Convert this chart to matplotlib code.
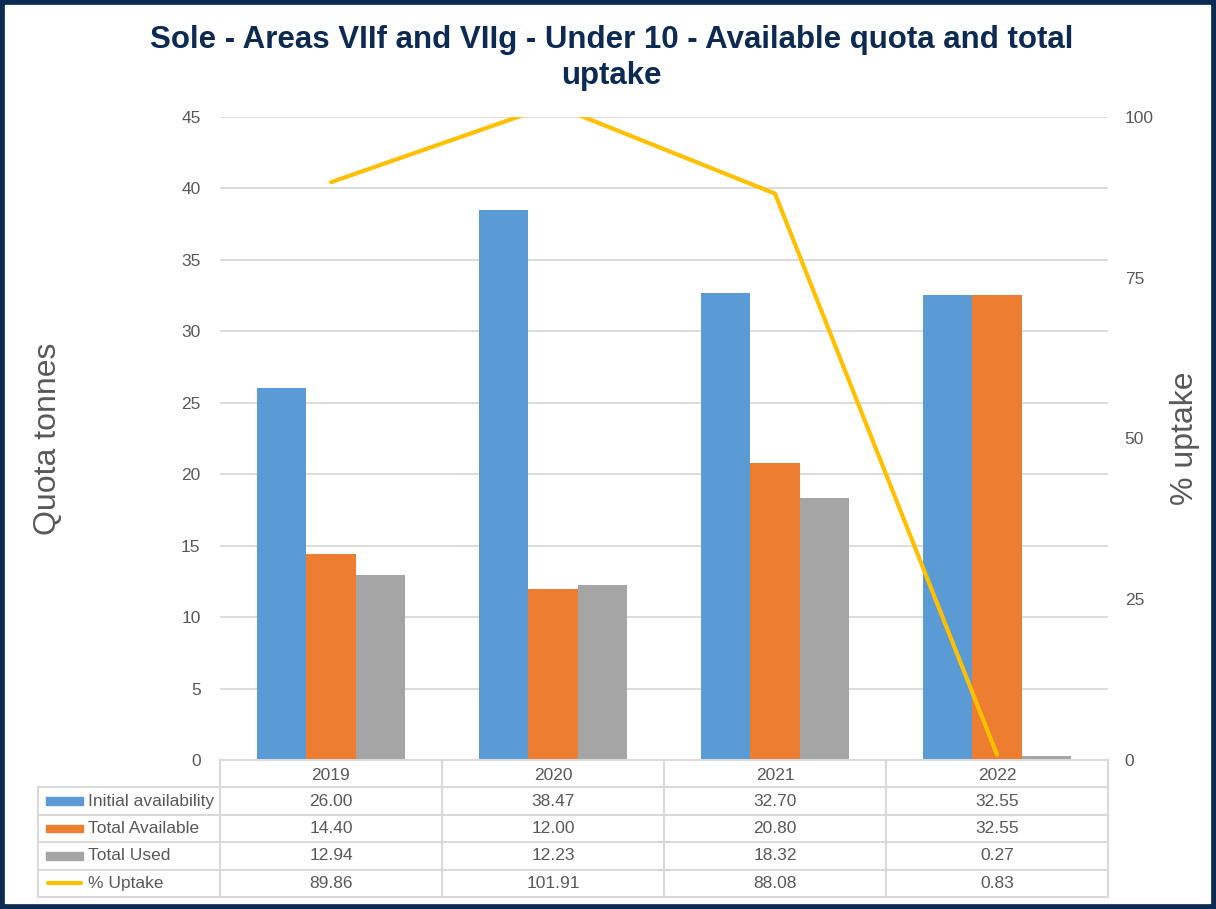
import matplotlib.pyplot as plt
from matplotlib.patches import Rectangle
import numpy as np

plt.rcParams['font.family'] = ['Liberation Sans', 'DejaVu Sans']

years = ['2019', '2020', '2021', '2022']
initial = [26.00, 38.47, 32.70, 32.55]
available = [14.40, 12.00, 20.80, 32.55]
used = [12.94, 12.23, 18.32, 0.27]
uptake = [89.86, 101.91, 88.08, 0.83]

series_names = ['Initial availability', 'Total Available', 'Total Used', '% Uptake']
colours = ['#5b9bd5', '#ed7d31', '#a5a5a5', '#ffc000']
navy = '#0c2a52'
txt = '#595959'
grid = '#d9d9d9'

W, H = 1216, 909
fig = plt.figure(figsize=(W / 100, H / 100), dpi=100)

def px(x0, y0, x1, y1):
    # pixel box (top-left origin) -> figure fraction rect
    return [x0 / W, 1 - y1 / H, (x1 - x0) / W, (y1 - y0) / H]

ax = fig.add_axes(px(220, 117, 1108, 760))
x = np.arange(len(years))
bw = 0.222
ax.bar(x - bw, initial, bw, color=colours[0], zorder=2)
ax.bar(x, available, bw, color=colours[1], zorder=2)
ax.bar(x + bw, used, bw, color=colours[2], zorder=2)
ax.set_xlim(-0.5, 3.5)
ax.set_ylim(0, 45)
ax.set_yticks(np.arange(0, 46, 5))
ax.yaxis.grid(True, color=grid, linewidth=1.3, zorder=0)
ax.set_axisbelow(True)
ax.set_xticks([])
for s in ax.spines.values():
    s.set_visible(False)
ax.tick_params(axis='y', length=0, labelsize=12.5, labelcolor=txt, pad=14)
ax.set_ylabel('Quota tonnes', fontsize=23, color=txt)
ax.yaxis.set_label_coords(-0.177, 0.5)

ax2 = ax.twinx()
ax2.plot(x, uptake, color=colours[3], linewidth=3, solid_capstyle='round', zorder=3)
ax2.set_ylim(0, 100)
ax2.set_yticks([0, 25, 50, 75, 100])
for s in ax2.spines.values():
    s.set_visible(False)
ax2.tick_params(axis='y', length=0, labelsize=12.5, labelcolor=txt, pad=12)
ax2.set_ylabel('% uptake', fontsize=23, color=txt)
ax2.yaxis.set_label_coords(1.07, 0.5)

fig.text(0.503, 1 - 40 / H, 'Sole - Areas VIIf and VIIg - Under 10 - Available quota and total',
         ha='center', va='center', fontsize=22.5, fontweight='bold', color=navy)
fig.text(0.503, 1 - 76 / H, 'uptake', ha='center', va='center', fontsize=22.5,
         fontweight='bold', color=navy)

# data table under the plot, columns aligned with the categories
tab = fig.add_axes(px(220, 760, 1108, 897))
tab.set_xlim(-0.5, 3.5)
tab.set_ylim(5, 0)
tab.axis('off')
left = -0.5 - 182 / 222.0
lw = 1.5
for i in range(len(years) + 1):
    tab.plot([i - 0.5, i - 0.5], [0, 5], color=grid, lw=lw, clip_on=False)
tab.plot([-0.5, 3.5], [0, 0], color=grid, lw=lw, clip_on=False)
for r in range(1, 6):
    tab.plot([left, 3.5], [r, r], color=grid, lw=lw, clip_on=False)
tab.plot([left, left], [1, 5], color=grid, lw=lw, clip_on=False)
for i, yr in enumerate(years):
    tab.text(i, 0.55, yr, ha='center', va='center', fontsize=12.5, color=txt)

rows = [initial, available, used, uptake]
for r, (name, vals) in enumerate(zip(series_names, rows)):
    yc = r + 1.5
    if r < 3:
        tab.add_patch(Rectangle((left + 8 / 222, yc - 0.14), 37 / 222, 0.28,
                                color=colours[r], clip_on=False))
    else:
        tab.plot([left + 10 / 222, left + 43 / 222], [yc, yc], color=colours[r],
                 lw=3, solid_capstyle='round', clip_on=False)
    tab.text(left + 50 / 222, yc, name, ha='left', va='center', fontsize=12.5, color=txt)
    for i, v in enumerate(vals):
        tab.text(i, yc, '%.2f' % v, ha='center', va='center', fontsize=12.5, color=txt)

# frame around the whole figure
fig.patches.append(Rectangle((0, 0), 1, 1, transform=fig.transFigure, fill=False,
                             edgecolor=navy, linewidth=7))

fig.savefig('out.png', dpi=100)
